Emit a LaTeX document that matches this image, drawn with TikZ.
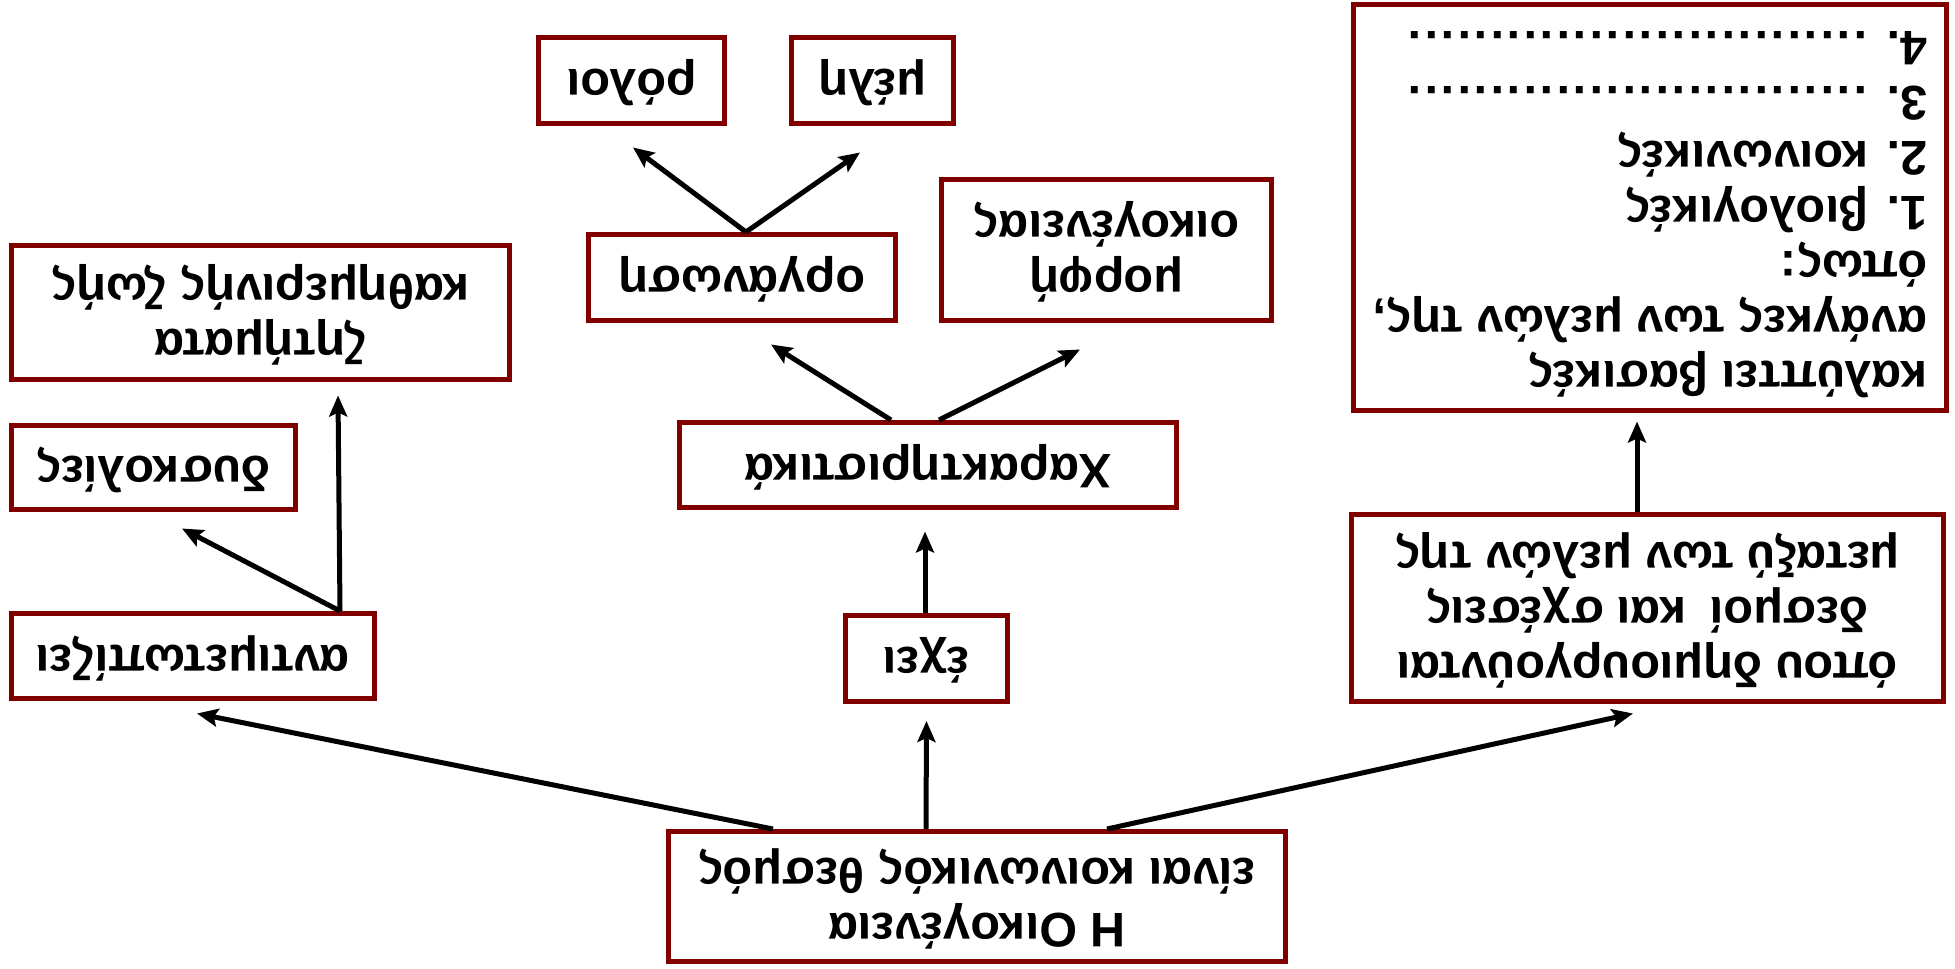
\documentclass[tikz,border=0pt]{standalone}
\usepackage{fontspec}
\usepackage{graphicx}
\setmainfont{Liberation Sans}
\usetikzlibrary{calc,arrows.meta}
\definecolor{boxred}{RGB}{128,0,0}
\newcommand\flipt[1]{\rotatebox{180}{\begin{tabular}{@{}c@{}}#1\end{tabular}}}
\newcommand\flipl[1]{\rotatebox{180}{\begin{tabular}{@{}l@{}}#1\end{tabular}}}
\newcommand\dotrow{\hbox to 462pt{\cleaders\hbox to 16.5pt{\hss.\hss}\hfill}}
\begin{document}
\begin{tikzpicture}[x=1pt,y=-1pt,
  box/.style={draw=boxred,line width=5pt,fill=white,inner sep=0pt,
    font=\fontsize{48.5}{55}\selectfont\bfseries},
  arr/.style={line width=5pt,-{Stealth[length=21pt,width=18pt,inset=4pt]}}]
\useasboundingbox[fill=white] (0,0) rectangle (1955,969);
\node[box,minimum width=617pt,minimum height=130pt] (bot) at (977,896.5)
  {\flipt{Η Οικογένεια\\είναι κοινωνικός θεσμός}};
\node[box,minimum width=592pt,minimum height=187pt] (opou) at (1647.5,608)
  {\flipt{όπου δημιουργούνται\\δεσμοί\enspace και σχέσεις\\μεταξύ των μελών της}};
\node[box,minimum width=593pt,minimum height=406pt] (kal) at (1650,207.5)
  {\flipl{καλύπτει βασικές\\ανάγκες των μελών της,\\όπως:\\1. βιολογικές\\2. κοινωνικές\\3. \dotrow\\4. \dotrow}};
\node[box,minimum width=162pt,minimum height=86pt] (exei) at (926.5,658.5)
  {\flipt{έχει}};
\node[box,minimum width=497pt,minimum height=85pt] (char) at (928,465)
  {\flipt{Χαρακτηριστικά}};
\node[box,minimum width=330pt,minimum height=141pt] (morfi) at (1106.5,250)
  {\flipt{μορφή\\οικογένειας}};
\node[box,minimum width=307pt,minimum height=86pt] (org) at (742,277.5)
  {\flipt{οργάνωση}};
\node[box,minimum width=186pt,minimum height=86pt] (roloi) at (631.5,80.5)
  {\flipt{ρόλοι}};
\node[box,minimum width=162pt,minimum height=86pt] (meli) at (872.5,80.5)
  {\flipt{μέλη}};
\node[box,minimum width=363pt,minimum height=85pt] (antim) at (193,656)
  {\flipt{αντιμετωπίζει}};
\node[box,minimum width=284pt,minimum height=84pt] (dysk) at (153.5,467.5)
  {\flipt{δυσκολίες}};
\node[box,minimum width=498pt,minimum height=134pt] (zit) at (260.5,312.5)
  {\flipt{ζητήματα\\καθημερινής ζωής}};
\draw[arr] ($(bot.north)+(-204,0)$) -- ($(antim.south)+(4,12.5)$);
\draw[arr] ($(bot.north)+(-51,0)$) -- ($(exei.south)+(0,17)$);
\draw[arr] ($(bot.north)+(130,0)$) -- ($(opou.south)+(-14.5,9.5)$);
\draw[arr] ($(opou.north)+(-10.5,0)$) -- ($(kal.south)+(-13,8.5)$);
\draw[arr] ($(exei.north)+(-1.5,0)$) -- ($(char.south)+(-3,21.5)$);
\draw[arr] ($(char.north)+(-37,0)$) -- ($(org.south)+(29,21.5)$);
\draw[arr] ($(char.north)+(11,0)$) -- ($(morfi.south)+(-26.5,26.5)$);
\draw[arr] ($(org.north)+(4,0)$) -- ($(roloi.south)+(1.5,21.5)$);
\draw[arr] ($(org.north)+(4,0)$) -- ($(meli.south)+(-12.5,26.5)$);
\draw[arr] ($(antim.north)+(147,0)$) -- ($(dysk.south)+(28.5,16.5)$);
\draw[arr] ($(antim.north)+(147,0)$) -- ($(zit.south)+(77.5,13.5)$);
\end{tikzpicture}
\end{document}
